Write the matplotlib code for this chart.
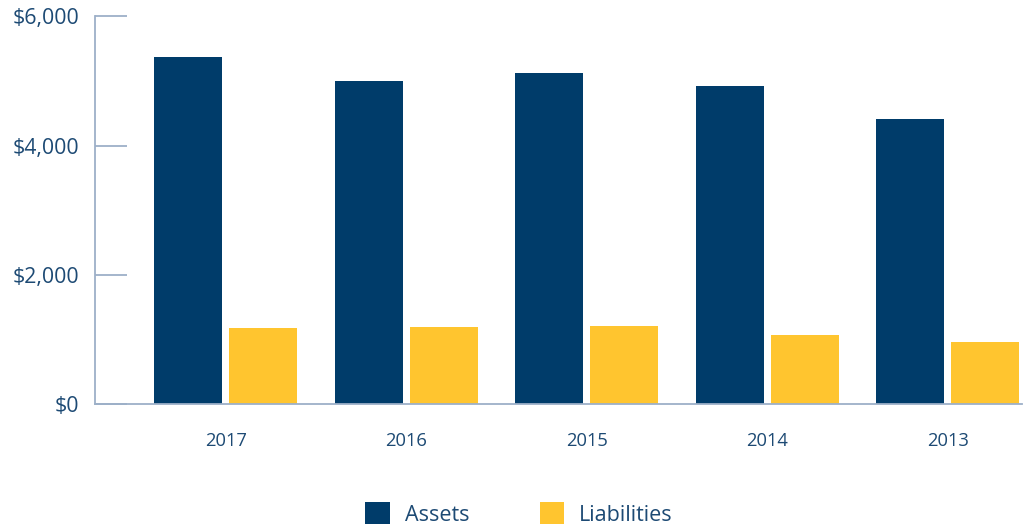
import matplotlib
matplotlib.use("Agg")
import matplotlib.pyplot as plt
import numpy as np
from matplotlib.ticker import FuncFormatter

years = ["2017", "2016", "2015", "2014", "2013"]
assets = [5372, 5001, 5125, 4924, 4413]
liabilities = [1180, 1196, 1211, 1072, 964]

NAVY = "#003C6A"
YELLOW = "#FFC52F"
TEXT = "#1D4A74"
AXIS = "#9DB0C8"

plt.rcParams['font.family'] = ['Open Sans', 'DejaVu Sans']

fig = plt.figure(figsize=(10.24, 5.25), dpi=100)
ax = fig.add_axes([95/1024, 1-404.3/525, (1022-95)/1024, (404.3-16.3)/525])

x = np.arange(len(years))
w = 0.3765
off = 0.2076
ax.bar(x - off, assets, width=w, color=NAVY, label="Assets")
ax.bar(x + off, liabilities, width=w, color=YELLOW, label="Liabilities")

ax.set_xlim(-0.723, 4.41)
ax.set_ylim(0, 6000)
ax.set_yticks([0, 2000, 4000, 6000])
ax.yaxis.set_major_formatter(FuncFormatter(lambda v, p: f"${v:,.0f}"))
ax.set_xticks(x)
ax.set_xticklabels(years)

for s in ["top", "right"]:
    ax.spines[s].set_visible(False)
for s in ["left", "bottom"]:
    ax.spines[s].set_color(AXIS)
    ax.spines[s].set_linewidth(1.3)

ax.tick_params(axis="y", direction="in", length=23, width=1.3, color=AXIS,
               labelsize=15.3, labelcolor=TEXT, pad=11.5)
ax.tick_params(axis="x", length=0, labelsize=13.2, labelcolor=TEXT, pad=20)

fig.legend(loc="center", bbox_to_anchor=(0.507, 1-514/525), ncol=2, frameon=False,
           fontsize=15.5, labelcolor=TEXT, handlelength=1.12, handleheight=1.2,
           handletextpad=0.7, columnspacing=3.3)

fig.savefig("out.png", dpi=100)
